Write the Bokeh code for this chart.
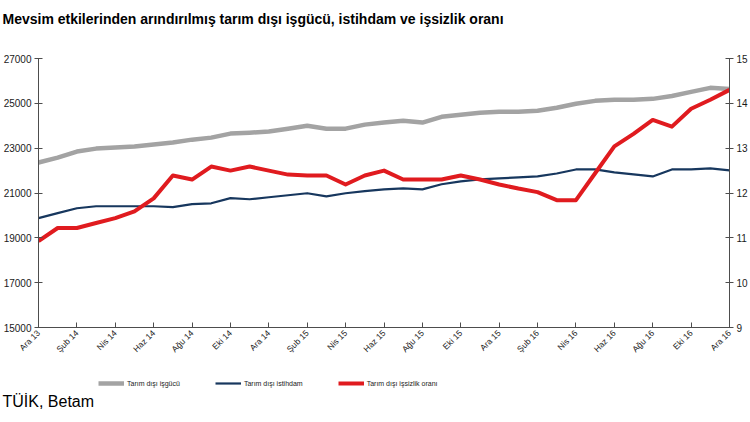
import math
from bokeh.plotting import figure
from bokeh.layouts import column
from bokeh.models import (ColumnDataSource, Range1d, LinearAxis, FixedTicker, Title,
                          Legend, LegendItem)
from bokeh.embed import file_html
from bokeh.resources import INLINE

# ---- data -------------------------------------------------------------
months = ["Ara 13", "Oca 14", "Şub 14", "Mar 14", "Nis 14", "May 14", "Haz 14", "Tem 14",
          "Ağu 14", "Eyl 14", "Eki 14", "Kas 14", "Ara 14", "Oca 15", "Şub 15", "Mar 15",
          "Nis 15", "May 15", "Haz 15", "Tem 15", "Ağu 15", "Eyl 15", "Eki 15", "Kas 15",
          "Ara 15", "Oca 16", "Şub 16", "Mar 16", "Nis 16", "May 16", "Haz 16", "Tem 16",
          "Ağu 16", "Eyl 16", "Eki 16", "Kas 16", "Ara 16"]

labor_force = [22360, 22580, 22850, 22980, 23030, 23070, 23160, 23250, 23380, 23470,
               23650, 23690, 23740, 23870, 24000, 23870, 23870, 24050, 24140, 24220,
               24140, 24400, 24490, 24580, 24620, 24620, 24670, 24800, 24980, 25110,
               25160, 25160, 25200, 25330, 25510, 25690, 25640]

employment = [19880, 20100, 20320, 20410, 20410, 20410, 20410, 20370, 20500, 20540,
              20770, 20720, 20810, 20900, 20990, 20850, 20990, 21080, 21160, 21210,
              21160, 21390, 21520, 21610, 21650, 21700, 21740, 21870, 22050, 22050,
              21920, 21830, 21740, 22050, 22050, 22100, 22010]

unemployment_rate = [10.93, 11.22, 11.22, 11.33, 11.44, 11.59, 11.88, 12.39, 12.30, 12.59,
                     12.50, 12.59, 12.50, 12.41, 12.39, 12.39, 12.19, 12.39, 12.50, 12.30,
                     12.30, 12.30, 12.39, 12.30, 12.19, 12.10, 12.02, 11.84, 11.84, 12.44,
                     13.04, 13.32, 13.63, 13.48, 13.88, 14.08, 14.30]

left_ticks = [15000, 17000, 19000, 21000, 23000, 25000, 27000]
right_ticks = [9, 10, 11, 12, 13, 14, 15]

series_names = ["Tarım dışı işgücü", "Tarım dışı istihdam", "Tarım dışı işsizlik oranı"]
title_text = "Mevsim etkilerinden arındırılmış tarım dışı işgücü, istihdam ve işsizlik oranı"
source_text = "TÜİK, Betam"

# ---- styles -----------------------------------------------------------
FONT = "Liberation Sans"
axis_color = "#4d4d4d"
text_color = "#1a1a1a"
styles = [dict(line_color="#a3a3a3", line_width=4.5),
          dict(line_color="#17375e", line_width=2.2),
          dict(line_color="#e01b1f", line_width=4)]
W = 750
LEFT = 38

idx = list(range(len(months)))
src = ColumnDataSource(dict(x=idx, lf=labor_force, emp=employment, rate=unemployment_rate))

# ---- main chart -------------------------------------------------------
p = figure(width=W, height=362, output_backend="svg", toolbar_location=None, title=None,
           x_range=Range1d(0, len(months) - 1), y_range=Range1d(left_ticks[0], left_ticks[-1]),
           min_border_left=LEFT, min_border_right=19, min_border_top=56, min_border_bottom=35)
p.extra_y_ranges = {"rate": Range1d(right_ticks[0], right_ticks[-1])}
p.outline_line_color = None
p.xgrid.visible = False
p.ygrid.visible = False
p.border_fill_color = "white"

xa = p.xaxis[0]
xa.ticker = FixedTicker(ticks=idx[::2])
xa.major_label_overrides = {i: months[i] for i in idx[::2]}
xa.major_label_orientation = math.pi / 4
xa.major_label_text_font = FONT
xa.major_label_text_font_size = "8.5px"
xa.major_label_text_color = text_color
xa.major_tick_in = 5
xa.major_tick_out = 0
xa.minor_tick_line_color = None
xa.axis_line_color = axis_color
xa.major_tick_line_color = axis_color
xa.major_label_standoff = 4

ya = p.yaxis[0]
ya.ticker = FixedTicker(ticks=left_ticks)
ra = LinearAxis(y_range_name="rate", ticker=FixedTicker(ticks=right_ticks))
p.add_layout(ra, "right")
for ax in (ya, ra):
    ax.major_label_text_font = FONT
    ax.major_label_text_font_size = "10px"
    ax.major_label_text_color = text_color
    ax.major_tick_in = 4
    ax.major_tick_out = 4
    ax.minor_tick_line_color = None
    ax.axis_line_color = axis_color
    ax.major_tick_line_color = axis_color
    ax.major_label_standoff = 3

p.line("x", "lf", source=src, line_join="round", **styles[0])
p.line("x", "emp", source=src, line_join="round", **styles[1])
p.line("x", "rate", source=src, y_range_name="rate", line_join="round", **styles[2])

# spacer between frame and title, then the title itself (outermost)
p.add_layout(Title(text=" ", standoff=2, text_font=FONT, text_font_size="14px"), "above")
p.add_layout(Title(text=title_text, align="left", vertical_align="top", offset=-LEFT + 2,
                   standoff=20, text_font=FONT, text_font_size="14px",
                   text_font_style="bold", text_color="#000000"), "above")

# ---- legend + source strip -------------------------------------------
q = figure(width=W, height=58, output_backend="svg", toolbar_location=None, title=None,
           x_range=Range1d(0, 1), y_range=Range1d(0, 1),
           x_axis_location=None, y_axis_location=None,
           min_border_left=LEFT, min_border_right=19, min_border_top=0, min_border_bottom=28)
q.outline_line_color = None
q.xgrid.visible = False
q.ygrid.visible = False
q.border_fill_color = "white"

dummies = [q.line(x=[2, 3], y=[2, 2], **s) for s in styles]
legend = Legend(items=[LegendItem(label=n, renderers=[r]) for n, r in zip(series_names, dummies)],
                orientation="horizontal", location=(60, 5),
                border_line_color=None, background_fill_alpha=0,
                label_text_font=FONT, label_text_font_size="7px", label_text_color=text_color,
                glyph_width=26, glyph_height=8, spacing=35, label_standoff=3,
                padding=0, margin=0)
q.add_layout(legend)
q.add_layout(Title(text=source_text, align="left", vertical_align="top", offset=-LEFT + 2,
                   standoff=0, text_font=FONT, text_font_size="16px",
                   text_font_style="normal", text_color="#000000"), "below")

layout = column(p, q, spacing=0)
open("out.html", "w").write(file_html(layout, INLINE))
